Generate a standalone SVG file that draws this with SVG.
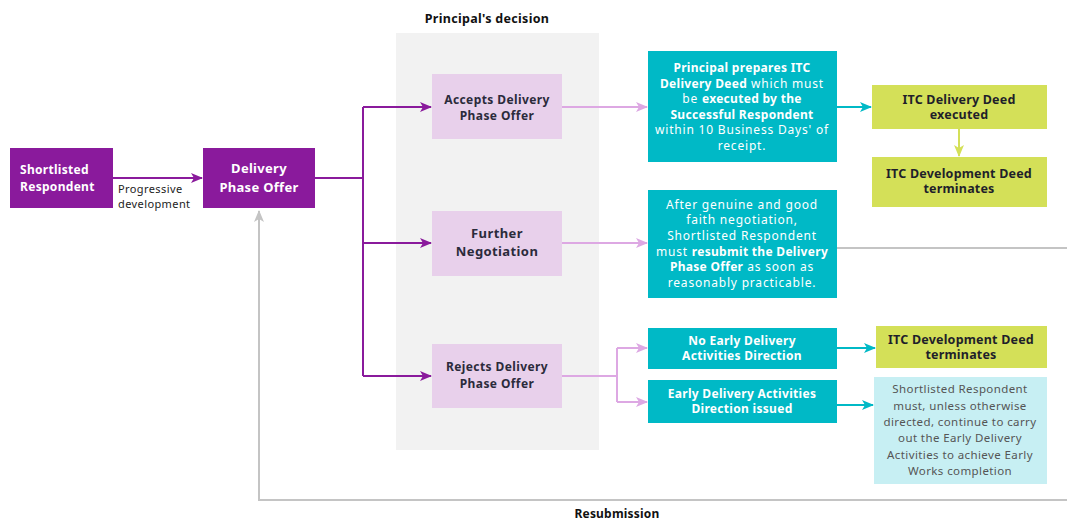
<svg xmlns="http://www.w3.org/2000/svg" width="1067" height="521" viewBox="0 0 1067 521">
<defs>
<style>
text{font-family:"Noto Sans","Open Sans",sans-serif;text-anchor:middle}
.w{fill:#fff;font-size:12px;letter-spacing:0.8px}
.wb{fill:#fff;font-size:12px;font-weight:bold;letter-spacing:0.3px}
.d{fill:#2b2b3b;font-size:12px;font-weight:bold;letter-spacing:0.4px}
.dl{fill:#1f1f2a;font-size:12.5px;font-weight:bold;letter-spacing:0.2px}
.g{fill:#555;font-size:11.5px;letter-spacing:0.4px}
.b{font-weight:bold;letter-spacing:0.3px}
.purple{fill:#8A1A9C}
.lilac{fill:#E8D0EB}
.teal{fill:#00B9C6}
.lime{fill:#D4E058}
.pale{fill:#C7EFF3}
.lp{stroke:#8A1A9C;stroke-width:2;fill:none}
.ll{stroke:#DDA8E3;stroke-width:2;fill:none}
.lt{stroke:#00B9C6;stroke-width:2;fill:none}
.lg{stroke:#D4E058;stroke-width:2;fill:none}
.lgr{stroke:#C4C4C4;stroke-width:2;fill:none}
</style>
<marker id="mp" markerWidth="12" markerHeight="10" refX="11" refY="5" orient="auto" markerUnits="userSpaceOnUse"><path d="M0,0 L12,5 L0,10 L3,5 Z" fill="#8A1A9C"/></marker>
<marker id="ml" markerWidth="12" markerHeight="10" refX="11" refY="5" orient="auto" markerUnits="userSpaceOnUse"><path d="M0,0 L12,5 L0,10 L3,5 Z" fill="#DDA8E3"/></marker>
<marker id="mt" markerWidth="12" markerHeight="10" refX="11" refY="5" orient="auto" markerUnits="userSpaceOnUse"><path d="M0,0 L12,5 L0,10 L3,5 Z" fill="#00B9C6"/></marker>
<marker id="mg" markerWidth="12" markerHeight="10" refX="11" refY="5" orient="auto" markerUnits="userSpaceOnUse"><path d="M0,0 L12,5 L0,10 L3,5 Z" fill="#D4E058"/></marker>
<marker id="mgr" markerWidth="12" markerHeight="10" refX="11" refY="5" orient="auto" markerUnits="userSpaceOnUse"><path d="M0,0 L12,5 L0,10 L3,5 Z" fill="#C4C4C4"/></marker>
</defs>
<rect width="1067" height="521" fill="#fff"/>
<rect x="396" y="33" width="203" height="417" fill="#F2F2F2"/>
<text x="487" y="23" style="font-size:12.5px;font-weight:bold;fill:#111;letter-spacing:0.3px">Principal's decision</text>
<text x="617" y="518" style="font-size:12px;font-weight:bold;fill:#111;letter-spacing:0.2px">Resubmission</text>
<g id="connectors">
<line x1="113" y1="178" x2="202" y2="178" class="lp" marker-end="url(#mp)"/>
<text x="118" y="193" style="font-size:11px;fill:#222;text-anchor:start;letter-spacing:0.4px">Progressive</text>
<text x="118" y="208" style="font-size:11px;fill:#222;text-anchor:start;letter-spacing:0.4px">development</text>
<polyline points="315,178 363,178" class="lp"/>
<line x1="363" y1="107" x2="363" y2="376" class="lp"/>
<line x1="363" y1="107" x2="431" y2="107" class="lp" marker-end="url(#mp)"/>
<line x1="363" y1="243" x2="431" y2="243" class="lp" marker-end="url(#mp)"/>
<line x1="363" y1="376" x2="431" y2="376" class="lp" marker-end="url(#mp)"/>
<line x1="562" y1="107" x2="647" y2="107" class="ll" marker-end="url(#ml)"/>
<line x1="562" y1="243" x2="647" y2="243" class="ll" marker-end="url(#ml)"/>
<line x1="562" y1="376" x2="617" y2="376" class="ll"/>
<line x1="617" y1="348" x2="617" y2="402" class="ll"/>
<line x1="617" y1="348" x2="647" y2="348" class="ll" marker-end="url(#ml)"/>
<line x1="617" y1="402" x2="647" y2="402" class="ll" marker-end="url(#ml)"/>
<line x1="837" y1="107" x2="871" y2="107" class="lt" marker-end="url(#mt)"/>
<line x1="837" y1="348" x2="875" y2="348" class="lt" marker-end="url(#mt)"/>
<line x1="837" y1="405" x2="873" y2="405" class="lt" marker-end="url(#mt)"/>
<line x1="959" y1="129" x2="959" y2="156" class="lg" marker-end="url(#mg)"/>
<line x1="837" y1="248" x2="1067" y2="248" class="lgr"/>
<polyline points="1067,500 259,500 259,211" class="lgr" marker-end="url(#mgr)"/>
</g>
<g id="shortlisted">
<rect x="10" y="148" width="103" height="60" class="purple"/>
<text x="20" y="174" class="wb" style="text-anchor:start">Shortlisted</text>
<text x="20" y="191" class="wb" style="text-anchor:start">Respondent</text>
</g>
<g id="delivery-offer">
<rect x="203" y="148" width="112" height="60" class="purple"/>
<text x="259" y="173" class="wb" style="font-size:13px">Delivery</text>
<text x="259" y="192" class="wb" style="font-size:13px">Phase Offer</text>
</g>
<g id="accepts">
<rect x="432" y="74" width="130" height="65" class="lilac"/>
<text x="497" y="104" class="d">Accepts Delivery</text>
<text x="497" y="120" class="d">Phase Offer</text>
</g>
<g id="further">
<rect x="432" y="211" width="130" height="65" class="lilac"/>
<text x="497" y="238" class="d" style="font-size:13px">Further</text>
<text x="497" y="256" class="d" style="font-size:13px">Negotiation</text>
</g>
<g id="rejects">
<rect x="432" y="344" width="130" height="64" class="lilac"/>
<text x="497" y="371" class="d">Rejects Delivery</text>
<text x="497" y="388" class="d">Phase Offer</text>
</g>
<g id="prepares">
<rect x="648" y="51" width="189" height="111" class="teal"/>
<text x="742" y="72" class="wb">Principal prepares ITC</text>
<text x="742" y="88" class="w"><tspan class="b">Delivery Deed</tspan> which must</text>
<text x="742" y="103" class="w">be <tspan class="b">executed by the</tspan></text>
<text x="742" y="119" class="wb">Successful Respondent</text>
<text x="742" y="134" class="w">within 10 Business Days' of</text>
<text x="742" y="150" class="w">receipt.</text>
</g>
<g id="executed">
<rect x="872" y="85" width="175" height="44" class="lime"/>
<text x="959" y="104" class="dl">ITC Delivery Deed</text>
<text x="959" y="119" class="dl">executed</text>
</g>
<g id="terminates1">
<rect x="872" y="157" width="175" height="50" class="lime"/>
<text x="959" y="178" class="dl">ITC Development Deed</text>
<text x="959" y="193" class="dl">terminates</text>
</g>
<g id="resubmit">
<rect x="648" y="190" width="189" height="108" class="teal"/>
<text x="742" y="209" class="w">After genuine and good</text>
<text x="742" y="224" class="w">faith negotiation,</text>
<text x="742" y="240" class="w">Shortlisted Respondent</text>
<text x="742" y="256" class="w">must <tspan class="b">resubmit the Delivery</tspan></text>
<text x="742" y="271" class="w"><tspan class="b">Phase Offer</tspan> as soon as</text>
<text x="742" y="287" class="w">reasonably practicable.</text>
</g>
<g id="no-early">
<rect x="648" y="328" width="189" height="41" class="teal"/>
<text x="742" y="345" class="wb">No Early Delivery</text>
<text x="742" y="360" class="wb">Activities Direction</text>
</g>
<g id="early">
<rect x="648" y="380" width="189" height="43" class="teal"/>
<text x="742" y="398" class="wb">Early Delivery Activities</text>
<text x="742" y="413" class="wb">Direction issued</text>
</g>
<g id="terminates2">
<rect x="876" y="326" width="171" height="42" class="lime"/>
<text x="961" y="344" class="dl">ITC Development Deed</text>
<text x="961" y="359" class="dl">terminates</text>
</g>
<g id="continue">
<rect x="874" y="377" width="173" height="107" class="pale"/>
<text x="960" y="393" class="g">Shortlisted Respondent</text>
<text x="960" y="410" class="g">must, unless otherwise</text>
<text x="960" y="426" class="g">directed, continue to carry</text>
<text x="960" y="442" class="g">out the Early Delivery</text>
<text x="960" y="459" class="g">Activities  to achieve Early</text>
<text x="960" y="475" class="g">Works completion</text>
</g>
</svg>
